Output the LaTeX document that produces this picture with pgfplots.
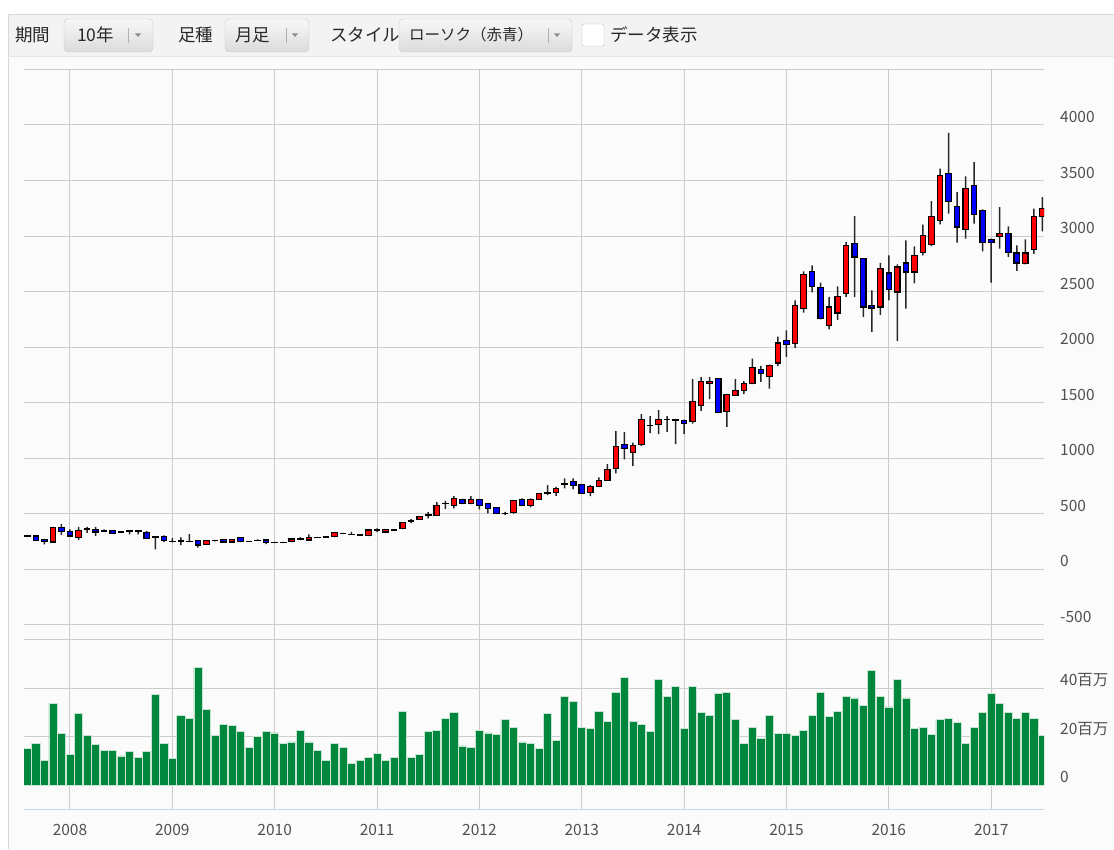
\documentclass[border=0pt]{standalone}
\usepackage{pgfplots}
\usepackage{pgfplotstable}
\pgfplotsset{compat=1.18}
\usepackage{fontspec}
\setmainfont{Noto Sans CJK JP}
\definecolor{gridc}{RGB}{204,204,204}
\definecolor{upred}{RGB}{255,0,0}
\definecolor{dnblue}{RGB}{0,0,255}
\definecolor{volg}{RGB}{0,135,62}
\definecolor{volb}{RGB}{200,228,208}
\definecolor{tickc}{RGB}{80,80,80}
\definecolor{tbbg}{RGB}{243,243,243}
\definecolor{framec}{RGB}{215,215,215}
\definecolor{axisblue}{RGB}{196,214,234}
\definecolor{tbtext}{RGB}{40,40,40}

\pgfplotstableread{
m o h l c v
-5 300 306 292 296 15.1
-4 297 303 252 258 17.4
-3 266 270 222 245 10.3
-2 243 380 240 375 33.6
-1 375 405 309 336 21.5
0 336 357 294 297 12.6
1 285 381 264 345 29.5
2 354 381 327 360 20.4
3 357 381 300 333 16.7
4 345 357 336 340 14.4
5 345 348 318 321 14.4
6 333 336 325 328 12.1
7 345 348 312 340 13.8
8 345 348 312 340 11.4
9 330 345 270 276 13.8
10 288 292 177 282 37.3
11 291 303 243 255 17.4
12 250 279 240 245 11.0
13 258 285 216 252 28.8
14 249 315 243 245 27.7
15 255 258 192 216 48.6
16 222 258 219 255 31.1
17 258 264 250 254 20.4
18 267 270 240 243 25.2
19 243 270 240 267 24.5
20 282 285 243 246 22.2
21 251 253 244 247 15.5
22 259 267 253 256 20.3
23 261 270 225 237 22.2
24 239 245 233 236 21.6
25 242 245 235 238 17.4
26 246 273 243 270 17.9
27 264 288 260 270 22.7
28 261 312 258 285 17.9
29 287 290 280 283 14.4
30 293 296 286 289 10.3
31 291 333 288 330 17.4
32 323 326 316 319 15.5
33 314 336 307 310 8.9
34 308 311 301 304 10.3
35 300 354 297 351 11.4
36 349 366 333 353 13.2
37 333 360 330 357 10.3
38 352 360 349 356 11.4
39 366 420 360 417 30.5
40 428 450 414 435 11.4
41 447 477 444 471 12.6
42 482 513 456 489 22.2
43 483 603 480 576 22.7
44 588 615 540 594 27.7
45 576 657 546 636 30.0
46 627 633 585 591 16.2
47 591 657 585 627 15.5
48 627 633 537 576 22.7
49 591 597 501 546 21.6
50 552 558 498 501 21.0
51 503 515 487 499 27.0
52 507 621 500 615 24.0
53 630 636 570 576 17.9
54 576 636 555 630 17.4
55 627 687 624 681 15.1
56 684 756 666 690 29.5
57 687 741 660 726 18.6
58 762 816 726 768 36.6
59 786 816 717 756 34.7
60 762 765 678 681 24.0
61 693 756 657 747 23.3
62 747 825 741 801 30.5
63 801 945 795 900 26.4
64 906 1242 861 1101 38.4
65 1125 1233 987 1089 44.4
66 1047 1140 927 1116 26.4
67 1125 1395 1110 1350 25.2
68 1290 1377 1224 1296 22.2
69 1299 1431 1215 1350 43.7
70 1344 1377 1236 1350 36.6
71 1338 1347 1125 1344 40.8
72 1341 1347 1215 1311 23.3
73 1326 1710 1311 1512 40.8
74 1470 1728 1425 1692 30.0
75 1671 1728 1530 1692 28.8
76 1716 1719 1404 1407 37.8
77 1416 1578 1281 1572 38.4
78 1566 1710 1560 1611 27.0
79 1611 1692 1575 1671 17.4
80 1671 1896 1665 1812 24.0
81 1797 1830 1686 1761 19.2
82 1731 1842 1626 1836 28.8
83 1857 2094 1830 2037 21.5
84 2061 2151 1911 2025 21.5
85 2031 2421 1992 2376 20.4
86 2346 2682 2310 2655 22.7
87 2682 2736 2493 2547 28.8
88 2535 2580 2250 2256 38.4
89 2193 2451 2160 2361 28.2
90 2307 2547 2244 2457 30.5
91 2481 2946 2451 2916 36.6
92 2931 3180 2451 2811 36.0
93 2796 2800 2271 2361 33.0
94 2376 2511 2136 2352 47.4
95 2361 2757 2289 2706 36.6
96 2667 2826 2421 2520 32.3
97 2496 2745 2055 2721 43.7
98 2757 2961 2346 2676 36.0
99 2676 2907 2574 2826 23.3
100 2850 3102 2826 3006 24.0
101 2925 3315 2910 3177 21.0
102 3141 3606 3105 3546 27.0
103 3561 3930 3201 3312 27.7
104 3267 3396 2940 3081 25.8
105 3057 3537 2976 3426 17.4
106 3456 3666 3111 3192 24.0
107 3231 3240 2862 2940 30.0
108 2970 2976 2580 2940 37.8
109 2997 3261 2886 3021 33.6
110 3021 3087 2811 2850 30.0
111 2847 2916 2685 2757 27.7
112 2751 2970 2745 2847 30.0
113 2877 3246 2838 3177 27.7
114 3177 3351 3042 3246 20.4
}\candles

\pgfplotsset{
  priceax/.style={scale only axis, width=1020pt, height=569.5pt,
    xmin=-5.39, xmax=114.19, ymin=-630, ymax=4500,
    at={(24pt,210pt)}, anchor=south west,
    axis line style={draw=none}, tick style={draw=none}},
  lbl/.style={font=\fontsize{15.5}{17}\selectfont, text=tickc},
}

\begin{document}
\begin{tikzpicture}[x=1pt,y=1pt]
\path[use as bounding box] (0,0) rectangle (1114,849);
\fill[white] (0,0) rectangle (1114,849);
\fill[white!98.5!black] (8,0) rectangle (1114,835);
\fill[tbbg] (8,793) rectangle (1114,835);
\draw[framec] (8,0) -- (8,835) -- (1114,835);
\draw[framec!60] (8,793) -- (1114,793);

% toolbar
\tikzset{tb/.style={font=\fontsize{17.5}{19}\selectfont, text=tbtext, inner sep=0pt},
  btn/.style={rounded corners=4pt, draw=black!22, top color=white!97!black, bottom color=white!86!black}}
\node[tb, anchor=west] at (15,814) {期間};
\draw[btn] (64,797) rectangle (153,830);
\node[tb, anchor=west] at (77,814) {10年};
\draw[black!30] (128,821) -- (128,806);
\fill[black!45] (135,815.5) -- (141,815.5) -- (138,812) -- cycle;

\node[tb, anchor=west] at (178,814) {足種};
\draw[btn] (225,797) rectangle (309,830);
\node[tb, anchor=west] at (235,814) {月足};
\draw[black!30] (286,821) -- (286,806);
\fill[black!45] (292,815.5) -- (298,815.5) -- (295,812) -- cycle;

\node[tb, anchor=west] at (330,814) {スタイル};
\draw[btn] (399,797) rectangle (572,830);
\node[tb, anchor=west, font=\fontsize{15.5}{17}\selectfont] at (409,814) {ローソク（赤青）};
\draw[black!30] (548,821) -- (548,806);
\fill[black!45] (554,815.5) -- (560,815.5) -- (557,812) -- cycle;

\draw[black!25, fill=white, rounded corners=2pt] (582,803) rectangle (604,825);
\node[tb, anchor=west] at (610,814) {データ表示};

% price grid + wicks
\begin{axis}[priceax, ybar stacked, bar width=1.5pt,
  xtick={0,12,...,108}, xticklabels={}, xmajorgrids, ymajorgrids,
  ytick={-500,0,500,1000,1500,2000,2500,3000,3500,4000,4500},
  yticklabels={-500,0,500,1000,1500,2000,2500,3000,3500,4000,{}},
  yticklabel pos=right,
  yticklabel style={lbl, anchor=west, inner sep=0pt, xshift=16pt, yshift=8pt},
  grid style={gridc, line width=1pt}]
\addplot[draw=none, fill=none] table[x=m, y=l] {\candles};
\addplot[fill=black!85, draw=none] table[x=m, y expr=\thisrow{h}-\thisrow{l}] {\candles};
\end{axis}

% bodies
\begin{axis}[priceax, ybar stacked, bar width=5.4pt, xtick=\empty, ytick=\empty]
\addplot[draw=none, fill=none] table[x=m, y expr={min(\thisrow{o},\thisrow{c})}] {\candles};
\addplot[fill=upred, draw=black, line width=1.2pt] table[x=m, y expr={max(\thisrow{c}-\thisrow{o},0)}] {\candles};
\addplot[fill=dnblue, draw=black, line width=1.2pt] table[x=m, y expr={max(\thisrow{o}-\thisrow{c},0)}] {\candles};
\end{axis}

% volume
\begin{axis}[scale only axis, width=1020pt, height=170.2pt,
  at={(24pt,39.3pt)}, anchor=south west,
  xmin=-5.39, xmax=114.19, ymin=-10, ymax=60,
  axis line style={draw=none}, tick style={draw=none},
  xtick={0,12,...,108},
  xticklabels={2008,2009,2010,2011,2012,2013,2014,2015,2016,2017},
  xticklabel style={lbl, anchor=center, inner sep=0pt, yshift=-16pt},
  ytick={0,20,40,60}, yticklabels={0,20百万,40百万,{}},
  yticklabel pos=right,
  yticklabel style={lbl, anchor=west, inner sep=0pt, xshift=16pt, yshift=8pt},
  xmajorgrids, ymajorgrids, grid style={gridc, line width=1pt},
  ybar, bar width=8.1pt]
\addplot[fill=volg, draw=volb, line width=0.7pt] table[x=m, y=v] {\candles};
\draw[axisblue, line width=1.3pt] (rel axis cs:0,0) -- (rel axis cs:1,0);
\end{axis}
\end{tikzpicture}
\end{document}
